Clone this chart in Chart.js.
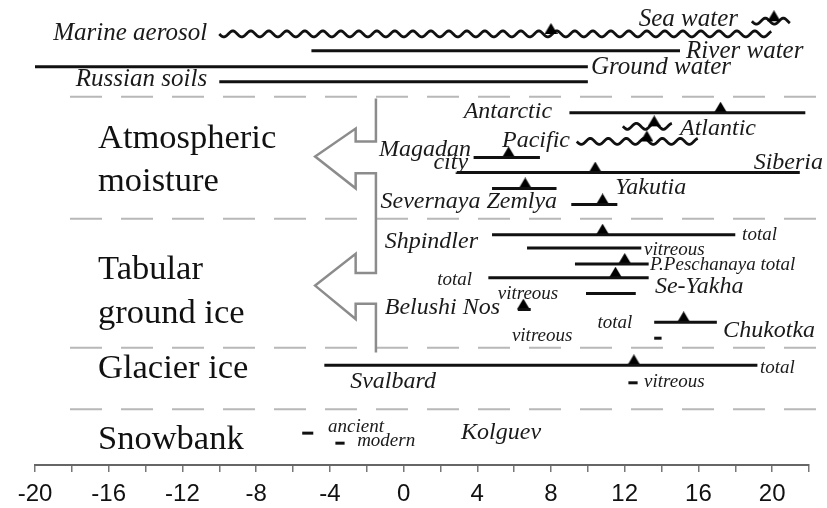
<!DOCTYPE html>
<html>
<head>
<meta charset="utf-8">
<script src="https://cdn.jsdelivr.net/npm/chart.js@4.4.1/dist/chart.umd.min.js"></script>
<style>
    html, body { margin: 0; padding: 0; background: #fff; }
</style>
</head>
<body>
<canvas id="isoChart" width="827" height="508"></canvas>
<script>
// Ranges of values per source / site (low..high), triangle = mean value
const rowNames = ['Sea water', 'Marine aerosol', 'River water', 'Ground water', 'Russian soils',
    'Antarctic', 'Atlantic', 'Pacific', 'Magadan city', 'Siberia', 'Severnaya Zemlya', 'Yakutia',
    'Shpindler total', 'Shpindler vitreous', 'P.Peschanaya total', 'Se-Yakha total', 'Se-Yakha vitreous',
    'Belushi Nos', 'Chukotka total', 'Chukotka vitreous',
    'Svalbard total', 'Svalbard vitreous',
    'Kolguev ancient', 'Kolguev modern'];
const rowLevel = [1.2, 2.0, 3.06, 4.06, 5.0,
    6.94, 7.8, 8.75, 9.75, 10.7, 11.7, 12.7,
    14.6, 15.44, 16.44, 17.3, 18.3,
    19.3, 20.1, 21.1,
    22.8, 23.9,
    27.06, 27.69];
const rangeLow = [18.9, -10, -5, -20, -10,
    9, 11.9, 9.4, 3.8, 2.9, 4.8, 9.1,
    4.8, 6.7, 9.3, 4.6, 9.9,
    6.2, 13.6, 13.6,
    -4.3, 12.2,
    -5.5, -3.7];
const rangeHigh = [21.0, 20, 15, 10, 10,
    21.8, 14.6, 16, 7.4, 21.5, 8.3, 11.6,
    18, 12.9, 13.3, 13.3, 12.6,
    6.9, 17.0, 14.0,
    19.2, 12.7,
    -4.9, -3.2];
const rangeMean = [20.1, 8, null, null, null,
    17.2, 13.6, 13.2, 5.7, 10.4, 6.6, 10.8,
    10.8, null, 12.0, 11.5, null,
    6.5, 15.2, null,
    12.5, null,
    null, null];
const wavyRows = ['Sea water', 'Marine aerosol', 'Atlantic', 'Pacific'];
const groupBreaks = [5.94, 13.6, 21.7, 25.56];
const tickLabels = [-20, -16, -12, -8, -4, 0, 4, 8, 12, 16, 20];

// annotation texts: text, x value, row level, align, size
const notes = [
    ['Sea water', 18.15, 1.06, 'right', 25],
    ['Marine aerosol', -10.66, 1.94, 'right', 25],
    ['River water', 15.33, 3.12, 'left', 25],
    ['Ground water', 10.17, 4.12, 'left', 25],
    ['Russian soils', -10.66, 4.87, 'right', 25],
    ['Antarctic', 8.06, 6.87, 'right', 24],
    ['Atlantic', 15.0, 7.94, 'left', 24],
    ['Pacific', 9.03, 8.69, 'right', 24],
    ['Magadan', 3.66, 9.25, 'right', 24],
    ['city', 3.5, 10.1, 'right', 24],
    ['Siberia', 22.76, 10.06, 'right', 24],
    ['Yakutia', 11.48, 11.62, 'left', 24],
    ['Severnaya Zemlya', 8.33, 12.56, 'right', 24],
    ['Shpindler', 4.04, 15.06, 'right', 24],
    ['total', 18.37, 14.62, 'left', 19],
    ['vitreous', 13.05, 15.56, 'left', 19],
    ['P.Peschanaya total', 13.37, 16.5, 'left', 19],
    ['total', 3.72, 17.44, 'right', 19],
    ['Se-Yakha', 13.64, 17.87, 'left', 24],
    ['vitreous', 6.75, 18.31, 'center', 19],
    ['Belushi Nos', 5.24, 19.19, 'right', 24],
    ['total', 11.47, 20.12, 'center', 19],
    ['Chukotka', 17.34, 20.62, 'left', 24],
    ['vitreous', 7.52, 20.94, 'center', 19],
    ['total', 19.34, 22.94, 'left', 19],
    ['Svalbard', -2.9, 23.8, 'left', 24],
    ['vitreous', 13.05, 23.87, 'left', 19],
    ['ancient', -4.1, 26.7, 'left', 19],
    ['modern', -2.52, 27.56, 'left', 19],
    ['Kolguev', 3.12, 27.06, 'left', 24]
];
const groupLabels = [
    ['Atmospheric', 8.6], ['moisture', 11.28],
    ['Tabular', 16.82], ['ground ice', 19.55],
    ['Glacier ice', 23.02], ['Snowbank', 27.5]
];

// triangle marker, base sits on the point
function triMarker(w, h) {
    const c = document.createElement('canvas');
    c.width = w;
    c.height = h * 2;
    const g = c.getContext('2d');
    g.fillStyle = '#000';
    g.beginPath();
    g.moveTo(0, h);
    g.lineTo(w, h);
    g.lineTo(w / 2, 0);
    g.closePath();
    g.fill();
    return c;
}

const datasets = [];
groupBreaks.forEach(function(lv) {
    datasets.push({
        data: [{x: -18.1, y: lv}, {x: 23, y: lv}],
        borderColor: '#b8b8b8', borderWidth: 2, borderDash: [32, 19],
        pointRadius: 0, clip: false
    });
});
rowNames.forEach(function(name, i) {
    const wavy = wavyRows.includes(name);
    datasets.push({
        label: name,
        data: [{x: rangeLow[i], y: rowLevel[i]}, {x: rangeHigh[i], y: rowLevel[i]}],
        borderColor: '#111', borderWidth: wavy ? 0 : 3,
        showLine: !wavy, wavy: wavy,
        pointRadius: 0, clip: false
    });
});
datasets.push({
    type: 'scatter',
    label: 'mean',
    data: rangeMean.map(function(m, i) { return {x: m, y: rowLevel[i]}; }).filter(function(p) { return p.x !== null; }),
    pointStyle: triMarker(13, 11),
    pointRadius: 0.5,
    pointBorderWidth: 0,
    borderWidth: 0,
    clip: false
});

const decorPlugin = {
    id: 'decor',
    beforeDatasetsDraw: function(chart) {
        const ctx = chart.ctx;
        ctx.save();
        ctx.strokeStyle = '#111';
        ctx.lineWidth = 2.8;
        chart.data.datasets.forEach(function(ds, i) {
            if (!ds.wavy) return;
            const pts = chart.getDatasetMeta(i).data;
            const x0 = pts[0].x, x1 = pts[1].x, y = pts[0].y;
            ctx.beginPath();
            for (let x = x0; x <= x1; x += 1) {
                const yy = y + 3 * Math.sin((x - x0) / 18 * 2 * Math.PI);
                if (x === x0) ctx.moveTo(x, yy); else ctx.lineTo(x, yy);
            }
            ctx.stroke();
        });
        ctx.restore();
    },
    afterDatasetsDraw: function(chart) {
        const ctx = chart.ctx;
        const xs = chart.scales.x, ys = chart.scales.y;
        ctx.save();
        // arrows
        ctx.strokeStyle = '#8c8c8c';
        ctx.lineWidth = 2.5;
        ctx.lineJoin = 'miter';
        const arrow = [[-1.5, 6.06], [-1.5, 8.75], [-2.6, 8.75], [-2.6, 7.94], [-4.8, 9.69], [-2.6, 11.69],
            [-2.6, 10.75], [-1.5, 10.75], [-1.5, 17.0], [-2.6, 17.0], [-2.6, 15.8], [-4.8, 17.8],
            [-2.6, 19.9], [-2.6, 18.94], [-1.5, 18.94], [-1.5, 22.0]];
        ctx.beginPath();
        arrow.forEach(function(p, k) {
            const px = xs.getPixelForValue(p[0]), py = ys.getPixelForValue(p[1]);
            if (k === 0) ctx.moveTo(px, py); else ctx.lineTo(px, py);
        });
        ctx.stroke();
        // notes
        ctx.fillStyle = '#1a1a1a';
        ctx.textBaseline = 'middle';
        notes.forEach(function(n) {
            ctx.font = 'italic ' + n[4] + 'px "Liberation Serif"';
            ctx.textAlign = n[3];
            ctx.fillText(n[0], xs.getPixelForValue(n[1]), ys.getPixelForValue(n[2]));
        });
        ctx.font = '34.5px "Liberation Serif"';
        ctx.textAlign = 'left';
        ctx.fillStyle = '#111';
        groupLabels.forEach(function(g) {
            ctx.fillText(g[0], 98, ys.getPixelForValue(g[1]));
        });
        ctx.restore();
    }
};

new Chart(document.getElementById('isoChart').getContext('2d'), {
    type: 'line',
    data: { datasets: datasets },
    options: {
        responsive: false,
        animation: false,
        layout: { padding: { left: 35, right: 18, top: 0, bottom: 0 } },
        plugins: { legend: { display: false }, tooltip: { enabled: false } },
        scales: {
            x: {
                type: 'linear', min: -20, max: 22,
                afterFit: function(scale) { scale.height = 43; },
                border: { display: true, color: '#666', width: 2 },
                grid: { drawOnChartArea: false, drawTicks: true, tickLength: 7, color: '#777', lineWidth: 1.5 },
                ticks: {
                    stepSize: 2, autoSkip: false, maxRotation: 0, padding: 7.6, color: '#111',
                    font: { family: 'Liberation Sans', size: 24 },
                    callback: function(v) { return tickLabels.includes(v) ? String(v) : ''; }
                }
            },
            y: { type: 'linear', reverse: true, min: 0.12, max: 29.06, display: false }
        }
    },
    plugins: [decorPlugin]
});
</script>
</body>
</html>
